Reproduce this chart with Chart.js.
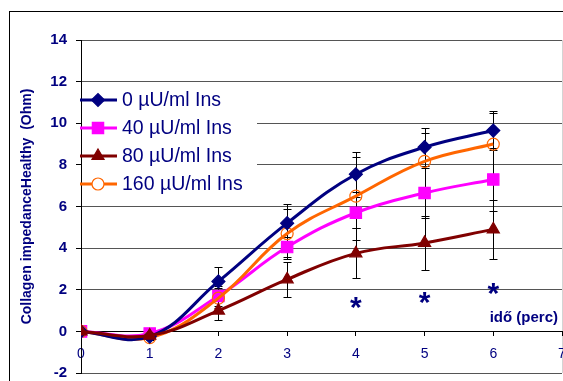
<!DOCTYPE html>
<html>
<head>
<meta charset="utf-8">
<title>Collagen impedance</title>
<script src="https://cdn.jsdelivr.net/npm/chart.js@4.4.1/dist/chart.umd.min.js"></script>
<style>
  body { margin: 0; background: #fff; }
  #wrap { width: 563px; height: 381px; position: relative; }
</style>
</head>
<body>
<div id="wrap"><canvas id="chart"></canvas></div>
<script>
/* ---------- Data ---------- */
const minutes = [0, 1, 2, 3, 4, 5, 6];
const seriesLabels = ['0 µU/ml Ins', '40 µU/ml Ins', '80 µU/ml Ins', '160 µU/ml Ins'];

const ins0   = [0, -0.25, 2.4, 5.2, 7.55, 8.85, 9.65];
const ins40  = [0, -0.1, 1.7, 4.05, 5.7, 6.65, 7.3];
const ins80  = [0, -0.2, 1.0, 2.5, 3.75, 4.25, 4.9];
const ins160 = [0, -0.3, 1.6, 4.7, 6.5, 8.17, 9.0];

// symmetric standard deviations
const err0   = [0, 0.1, 0.7, 0.9, 0.85, 0.9, 0.95];
const err40  = [0, 0.1, 0.5, 0.5, 0.75, 1.2, 1.5];
const err80  = [0, 0.1, 0.45, 0.85, 1.2, 1.3, 1.4];
const err160 = [0, 0.1, 0.5, 1.2, 2.1, 1.35, 1.5];

// significance markers (minute, level)
const starMinutes = [4, 5, 6];
const starLevels  = [1.35, 1.6, 2.05];

const yTicks = { min: -2, max: 14, step: 2 };
const xTicks = { min: 0, max: 7, step: 1 };

const yTitle = 'Collagen impedanceHealthy  (Ohm)';
const xTitle = 'idő (perc)';

const NAVY = '#000080';
const FONT = "'Liberation Sans', Arial, sans-serif";

const styles = [
    { color: '#000080', point: 'rectRot',  radius: 6.5, fill: '#000080' },
    { color: '#ff00ff', point: 'rect',     radius: 8,   fill: '#ff00ff' },
    { color: '#800000', point: 'triangle', radius: 7,   fill: '#800000' },
    { color: '#ff6600', point: 'circle',   radius: 6,   fill: 'rgba(0,0,0,0)' }
];

const values = [ins0, ins40, ins80, ins160];
const errors = [err0, err40, err80, err160];

const datasets = values.map((vals, i) => ({
    label: seriesLabels[i],
    data: vals.map((v, j) => ({ x: minutes[j], y: v })),
    errors: errors[i],
    borderColor: styles[i].color,
    borderWidth: 3,
    tension: 0.4,
    pointStyle: styles[i].point,
    pointRadius: styles[i].radius,
    pointBackgroundColor: styles[i].fill,
    pointBorderColor: styles[i].color,
    pointBorderWidth: 1.2,
    order: [1, 3, 0, 2][i]
}));

// no label overhang: the plot runs right up to the canvas edges
const noOverhang = s => {
    s.paddingLeft = 0; s.paddingRight = 0;
    s.paddingTop = 0; s.paddingBottom = 0;
};

/* ---------- Plugins ---------- */
const frame = {
    id: 'frame',
    beforeDraw(chart) {
        const ctx = chart.ctx;
        ctx.save();
        ctx.strokeStyle = '#000';
        ctx.lineWidth = 1;
        ctx.strokeRect(9.5, 11.5, 700, 700);
        ctx.restore();
    }
};

const errorBars = {
    id: 'errorBars',
    beforeDatasetsDraw(chart) {
        const ctx = chart.ctx;
        const xs = chart.scales.x, ys = chart.scales.y;
        ctx.save();
        ctx.strokeStyle = '#000';
        ctx.lineWidth = 1;
        chart.data.datasets.forEach(ds => {
            ds.data.forEach((p, j) => {
                const e = ds.errors[j];
                if (!e) return;
                const px = Math.round(xs.getPixelForValue(p.x)) + 0.5;
                const top = Math.round(ys.getPixelForValue(p.y + e)) + 0.5;
                const bot = Math.round(ys.getPixelForValue(p.y - e)) + 0.5;
                ctx.beginPath();
                ctx.moveTo(px, top); ctx.lineTo(px, bot);
                ctx.moveTo(px - 4, top); ctx.lineTo(px + 4, top);
                ctx.moveTo(px - 4, bot); ctx.lineTo(px + 4, bot);
                ctx.stroke();
            });
        });
        ctx.restore();
    }
};

const legendBox = {
    id: 'legendBox',
    beforeDatasetsDraw(chart) {
        const ctx = chart.ctx;
        const a = chart.chartArea;
        ctx.save();
        ctx.fillStyle = '#fff';
        ctx.fillRect(a.left + 1, a.top + 47, 175, 112);
        seriesLabels.forEach((label, i) => {
            const y = a.top + 60 + i * 28;
            const s = styles[i];
            ctx.strokeStyle = s.color;
            ctx.lineWidth = 3;
            ctx.beginPath();
            ctx.moveTo(a.left - 1, y);
            ctx.lineTo(a.left + 36, y);
            ctx.stroke();
            ctx.fillStyle = s.point === 'circle' ? '#fff' : s.fill;
            ctx.lineWidth = 1.2;
            Chart.helpers.drawPoint(ctx, { pointStyle: s.point, radius: s.radius, rotation: 0, borderWidth: 1.2 }, a.left + 17, y);
            ctx.fillStyle = NAVY;
            ctx.font = '19.5px ' + FONT;
            ctx.textBaseline = 'middle';
            ctx.textAlign = 'left';
            ctx.fillText(label, a.left + 41, y + 1);
        });
        ctx.restore();
    }
};

const annotations = {
    id: 'annotations',
    afterDatasetsDraw(chart) {
        const ctx = chart.ctx;
        const a = chart.chartArea;
        const xs = chart.scales.x, ys = chart.scales.y;
        ctx.save();
        ctx.fillStyle = NAVY;
        ctx.font = 'bold 30px ' + FONT;
        ctx.textAlign = 'center';
        ctx.textBaseline = 'alphabetic';
        const m = ctx.measureText('*');
        const shift = (m.actualBoundingBoxAscent - m.actualBoundingBoxDescent) / 2;
        starMinutes.forEach((t, i) => {
            ctx.fillText('*', xs.getPixelForValue(t), ys.getPixelForValue(starLevels[i]) + shift);
        });

        // axis titles
        ctx.font = 'bold 15px ' + FONT;
        ctx.textAlign = 'right';
        ctx.textBaseline = 'middle';
        ctx.fillText(xTitle, a.right - 4, ys.getPixelForValue(0) - 14);

        ctx.font = 'bold 14px ' + FONT;
        ctx.textAlign = 'center';
        ctx.translate(27, (a.top + a.bottom) / 2);
        ctx.rotate(-Math.PI / 2);
        ctx.fillText(yTitle, 0, 0);
        ctx.restore();
    }
};

/* ---------- Chart ---------- */
new Chart(document.getElementById('chart'), {
    type: 'line',
    data: { datasets },
    plugins: [frame, errorBars, legendBox, annotations],
    options: {
        responsive: true, maintainAspectRatio: false,
        animation: false,
        events: [],
        layout: { autoPadding: false, padding: { top: 40, right: 1, bottom: 8, left: 0 } },
        plugins: { legend: { display: false }, tooltip: { enabled: false } },
        scales: {
            x: {
                type: 'linear',
                position: { y: 0 },
                min: xTicks.min, max: xTicks.max,
                ticks: { stepSize: xTicks.step, color: NAVY, font: { family: FONT, size: 14 }, padding: 10 },
                grid: {
                    color: c => (c.tick && c.tick.value === xTicks.max) ? '#d4d4d4' : 'rgba(0,0,0,0)',
                    tickColor: '#000', tickLength: 4
                },
                border: { color: '#000', width: 1 },
                afterFit: noOverhang
            },
            y: {
                min: yTicks.min, max: yTicks.max,
                ticks: { stepSize: yTicks.step, color: NAVY, font: { family: FONT, size: 15, weight: 'bold' }, padding: 9 },
                grid: { color: '#555', tickColor: '#000', tickLength: 5 },
                border: { color: '#000', width: 1 },
                afterFit: s => { noOverhang(s); s.width = 81; }
            }
        }
    }
});
</script>
</body>
</html>
